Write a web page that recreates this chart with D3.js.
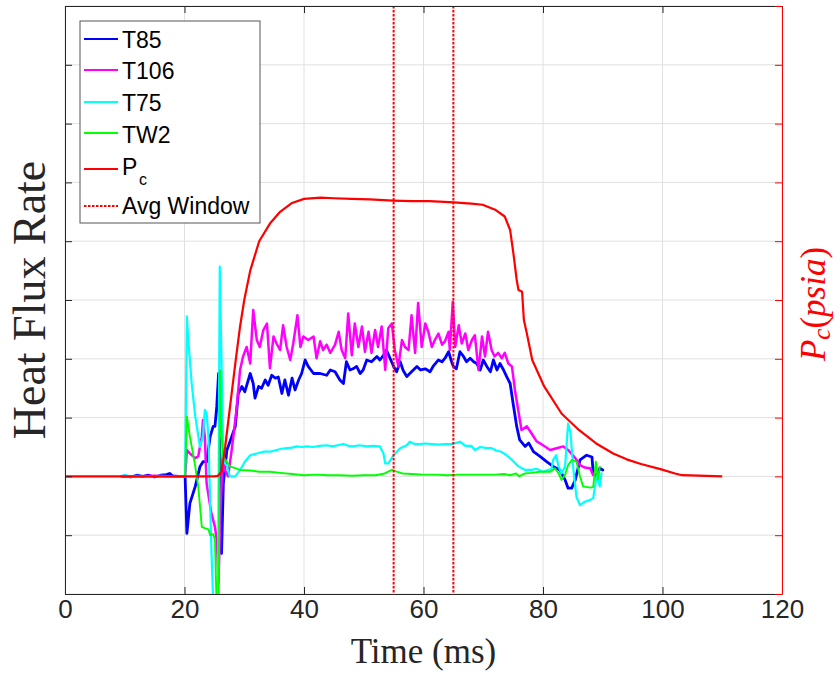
<!DOCTYPE html>
<html>
<head>
<meta charset="utf-8">
<script src="https://cdn.jsdelivr.net/npm/d3@7"></script>
<style>
  body { margin: 0; background: #fff; }
  svg { display: block; }
</style>
</head>
<body>
<svg id="chart" width="839" height="674"></svg>
<script>
// Time axis ticks (ms) and averaging window bounds (ms)
const timeTicks = [0, 20, 40, 60, 80, 100, 120];
const avgWindow = [55, 65];

// Heat flux traces, [time (ms), heat flux rate]
const t85 = [
  [9.5,0],[10,0.01],[11,-0.01],[12,0.02],[13,0],[14,0.02],[15,-0.01],[16,0.02],[17,0.03],[17.5,0.05],[18,0.01],[19,0],
  [20.1,0],[20.4,-0.97],[20.9,-0.46],[21.8,-0.17],[22.6,0.17],[23.1,0.25],[23.7,0.25],[24.3,0.68],[24.8,0.85],[25.1,0.85],
  [25.4,1.19],[25.7,1.75],[25.9,0.6],[26.2,-1.31],[26.5,-0.12],[27.1,0.45],[27.6,0.59],[28.5,0.85],[29.0,1.41],[29.6,1.53],
  [30.1,1.44],[31.0,1.75],[31.5,1.58],[31.8,1.33],[32.4,1.53],[32.9,1.50],[33.5,1.64],[34.0,1.55],[34.6,1.72],[35.2,1.67],
  [35.7,1.69],[36.3,1.41],[36.8,1.64],[37.4,1.38],[38.0,1.67],[38.5,1.47],[39.1,1.64],[39.6,1.75],[40.2,1.98],[40.7,1.87],
  [41.6,1.75],[42.7,1.75],[43.8,1.72],[44.4,1.81],[45.2,1.78],[46.0,1.64],[46.6,1.58],[47.1,1.95],[47.7,1.81],[48.2,1.83],
  [48.8,1.87],[49.4,1.75],[49.9,1.81],[50.5,1.98],[51.3,1.95],[52.2,2.04],[52.7,1.98],[53.3,2.06],[53.8,2.15],[54.4,2.01],
  [55.0,1.87],[55.5,1.78],[56.1,1.95],[56.6,1.80],[57.2,1.70],[58.0,1.78],[58.9,1.87],[59.5,1.81],[60.3,1.83],[61.1,1.78],
  [61.6,1.87],[62.5,1.98],[63.1,1.95],[63.6,2.01],[64.2,2.12],[64.7,1.95],[65.0,1.87],[65.5,1.83],[66.1,2.12],[66.7,2.04],
  [67.2,1.95],[67.8,2.01],[68.4,1.95],[68.9,1.92],[69.5,1.81],[70.0,1.98],[70.6,1.87],[71.2,1.78],[71.7,1.98],[72.3,1.81],
  [72.8,1.92],[73.4,1.81],[73.9,1.70],[74.5,1.58],[75.0,1.24],[75.6,0.85],[76.1,0.62],[77.0,0.51],[77.6,0.57],[78.4,0.42],
  [79.5,0.34],[80.6,0.25],[81.7,0.17],[82.8,0.11],[83.7,-0.06],[84.2,-0.2],[84.8,-0.2],[85.4,-0.06],[86.2,0.28],[87.3,0.36],
  [88.2,0.33],[88.4,0.05],[89.0,0.0],[89.5,0.14],[90.0,0.11]
];

const t106 = [
  [9.5,0],[12,0],[15,0.01],[18,0],[20.1,0],
  [20.4,0.45],[20.9,0.39],[21.8,0.31],[22.3,0.34],[22.9,0.68],[23.1,0.96],[23.4,0.68],[23.7,-0.12],[24.5,-0.63],[25.1,-0.86],
  [25.4,-1.08],[25.7,-1.8],[26.0,-0.6],[26.4,0.3],[26.8,0.1],[27.3,0.0],[27.9,0.45],[28.7,1.13],[29.3,1.81],[29.8,2.04],
  [30.4,2.2],[31.0,1.92],[31.5,2.83],[32.1,2.32],[32.6,2.2],[33.2,2.49],[33.8,2.6],[34.3,1.84],[34.9,2.38],[35.4,2.26],
  [36.0,2.15],[36.5,2.57],[37.1,2.2],[37.7,1.98],[38.2,2.26],[38.9,2.74],[39.4,2.2],[39.9,2.38],[40.7,2.32],[41.6,2.38],
  [42.1,2.01],[42.7,2.3],[43.2,2.15],[43.8,2.24],[44.4,2.1],[45.2,2.24],[45.8,2.46],[46.3,2.15],[46.9,2.01],[47.4,2.77],
  [48.0,2.06],[48.5,2.6],[49.1,2.2],[49.7,2.55],[50.2,2.12],[50.8,2.46],[51.3,2.1],[51.9,2.49],[52.4,2.2],[53.0,2.55],
  [53.6,1.81],[54.1,2.52],[54.7,2.6],[55.2,2.15],[55.8,1.87],[56.4,2.32],[56.9,2.2],[57.5,2.15],[58.0,2.74],[58.6,2.1],
  [59.1,2.95],[59.7,2.2],[60.3,2.6],[60.8,2.46],[61.4,2.2],[61.9,2.32],[62.5,2.43],[63.1,2.24],[63.6,2.3],[64.2,2.46],
  [64.4,2.15],[64.9,2.97],[65.3,2.2],[65.9,2.57],[66.4,2.26],[67.0,2.43],[67.5,2.15],[68.1,2.32],[68.6,2.4],[69.2,1.81],
  [69.8,2.38],[70.3,2.04],[70.8,2.46],[71.4,2.15],[71.9,2.04],[72.5,2.1],[73.1,2.01],[73.6,2.1],[74.2,1.92],[74.8,1.87],
  [75.3,1.47],[75.9,1.10],[76.4,0.79],[77.3,0.85],[78.1,0.73],[78.9,0.60],[80.0,0.53],[81.2,0.45],[82.3,0.48],[83.4,0.51],
  [84.2,0.45],[85.4,0.31],[86.2,0.19],[87.0,0.15],[87.9,0.14],[88.4,0.02]
];

const t75 = [
  [9.5,0],[10,0.02],[11,0],[12,0.01],[14,0],[16,0.01],[18,0],[20.1,0],
  [20.4,2.72],[20.6,2.38],[21.2,1.58],[21.8,1.02],[22.6,0.5],[23.1,0.68],[23.4,1.13],[23.7,1.08],[24.0,0.68],[24.5,-1.25],
  [24.8,-2.1],[25.2,-2.6],[25.6,-2.3],[25.9,3.57],[26.5,0.28],[27.1,0.17],[27.6,0],[28.5,0],[29.3,0.11],[30.1,0.25],
  [31.0,0.36],[32.1,0.39],[33.2,0.42],[34.3,0.42],[35.4,0.45],[36.2,0.47],[37.1,0.48],[38.0,0.49],[38.8,0.51],[39.6,0.50],
  [40.5,0.51],[41.5,0.5],[42.6,0.52],[43.8,0.53],[44.8,0.51],[45.6,0.53],[46.6,0.55],[47.4,0.52],[48.2,0.51],[49.3,0.53],
  [50.5,0.51],[51.6,0.52],[52.7,0.51],[53.3,0.39],[53.6,0.22],[54.1,0.22],[55.0,0.36],[56.1,0.48],[57.2,0.53],[57.7,0.59],
  [58.5,0.55],[59.4,0.55],[60.3,0.56],[61.5,0.55],[62.5,0.54],[63.6,0.55],[64.6,0.55],[65.5,0.57],[66.1,0.59],[67.0,0.52],
  [68.0,0.52],[68.6,0.45],[69.5,0.50],[70.6,0.48],[71.4,0.48],[72.2,0.44],[73.0,0.42],[73.9,0.36],[74.8,0.28],[75.9,0.17],
  [77.0,0.11],[78.1,0.11],[78.9,0.13],[80.0,0.08],[80.8,0.11],[81.4,0.12],[81.7,0.28],[82.2,0.36],[82.6,0.17],[83.1,0.05],
  [83.7,0.17],[84.2,0.9],[84.6,0.74],[85.1,0.1],[85.6,-0.35],[86.2,-0.49],[87.0,-0.43],[87.9,-0.40],[88.4,-0.37],[89.0,0.02],
  [89.5,-0.17],[89.8,0.05]
];

const tw2 = [
  [9.5,0],[12,0],[15,0],[18,0],[20.1,0],
  [20.4,1.02],[20.9,0.68],[21.8,0.17],[22.3,-0.17],[22.9,-0.86],[23.4,-0.88],[24.0,-0.9],[24.3,-1.0],[24.8,-0.98],[25.1,-1.08],
  [25.4,-2.3],[25.7,-2.5],[25.95,1.8],[26.2,0.68],[26.5,0.34],[27.6,0.17],[29.3,0.11],[31.0,0.1],[32.5,0.08],[34.3,0.08],
  [36.0,0.06],[38.0,0.04],[40.0,0.02],[42.0,0.03],[44.0,0.02],[46.0,0.02],[48.0,0.01],[50.0,0.02],[52.0,0.02],[53.5,0.05],
  [54.1,0.08],[54.7,0.11],[55.5,0.08],[56.5,0.05],[58,0.04],[60,0.03],[62,0.03],[64,0.02],[66,0.03],[68,0.03],[70,0.03],
  [72,0.03],[73.5,0.04],[74.5,0.02],[75.5,0.05],[76,0.0],[77,0.05],[78,0.06],[79.5,0.08],[81.2,0.08],[82.0,0.14],[82.6,0.05],
  [83.1,-0.06],[83.7,0.03],[84.2,0.19],[84.8,0.28],[85.6,0.25],[86.2,0.0],[86.7,-0.17],[87.9,-0.19],[88.4,-0.18],[88.85,0.25],
  [89.2,-0.05],[89.5,0.16]
];

// Chamber pressure, [time (ms), psia]
const pc = [
  [0,0],[25,0],[25.6,1],[26.2,8],[26.8,50],[27.4,100],[28.0,150],[28.6,200],[29.3,255],[30.0,300],[31.0,350],[32.5,400],
  [34.3,430],[36.0,450],[38.0,465],[40.0,472],[42.8,474],[45,473],[48,472],[51,471],[54.9,469],[58,468],[61,468],[65.1,466],
  [68,464],[69.9,462],[72.1,453],[73.6,442],[74.5,419],[75.05,379],[75.6,334],[75.9,317],[76.5,314],[76.8,266],[77.3,243],
  [78.2,198],[80.2,153],[83.1,107],[86.0,79],[88.9,56],[91.75,39],[94,29],[96.4,21],[99.8,12],[102.1,5],[103.3,2],[110,0]
];

const series = [
  { name: "T85",  data: t85,  color: "#0000ff", width: 2.8 },
  { name: "T106", data: t106, color: "#ff00ff", width: 2.5 },
  { name: "T75",  data: t75,  color: "#00ffff", width: 2.2 },
  { name: "TW2",  data: tw2,  color: "#00ff00", width: 1.9 }
];

const svg = d3.select("#chart");
const plotLeft = 65, plotRight = 782, plotTop = 6, plotBottom = 594;

const x = d3.scaleLinear().domain([0, 120]).range([plotLeft, plotRight]);
const yFlux = d3.scaleLinear().domain([-2, 8]).range([plotBottom, plotTop]);
const yPc = d3.scaleLinear().domain([-200, 800]).range([plotBottom, plotTop]);

const fluxTicks = d3.range(-2, 9, 1);
const pcTicks = d3.range(-200, 801, 100);

// grid
const grid = svg.append("g").attr("stroke", "#e0e0e0").attr("stroke-width", 1);
grid.selectAll("line.v").data(timeTicks).join("line").attr("class", "v")
  .attr("x1", d => x(d)).attr("x2", d => x(d)).attr("y1", plotTop).attr("y2", plotBottom);
grid.selectAll("line.h").data(fluxTicks).join("line").attr("class", "h")
  .attr("x1", plotLeft).attr("x2", plotRight).attr("y1", d => yFlux(d)).attr("y2", d => yFlux(d));

// plot area clip
svg.append("clipPath").attr("id", "plotClip").append("rect")
  .attr("x", plotLeft).attr("y", plotTop).attr("width", plotRight - plotLeft).attr("height", plotBottom - plotTop);

const plot = svg.append("g").attr("clip-path", "url(#plotClip)");

const fluxLine = d3.line().x(d => x(d[0])).y(d => yFlux(d[1]));
const pcLine = d3.line().x(d => x(d[0])).y(d => yPc(d[1]));

series.forEach(s => {
  plot.append("path").datum(s.data)
    .attr("fill", "none").attr("stroke", s.color).attr("stroke-width", s.width)
    .attr("stroke-linejoin", "round").attr("stroke-linecap", "round")
    .attr("d", fluxLine);
});

plot.append("path").datum(pc)
  .attr("fill", "none").attr("stroke", "#ff0000").attr("stroke-width", 2.2)
  .attr("stroke-linejoin", "round").attr("d", pcLine);

// averaging window
plot.selectAll("line.avg").data(avgWindow).join("line").attr("class", "avg")
  .attr("x1", d => x(d)).attr("x2", d => x(d)).attr("y1", plotTop).attr("y2", plotBottom)
  .attr("stroke", "#ff0000").attr("stroke-width", 2).attr("stroke-dasharray", "2.5,1.5");

// axes
const axisColor = "#262626";
const styleAxis = (g, color) => {
  g.select(".domain").attr("stroke", color).attr("stroke-width", 1);
  g.selectAll(".tick line").attr("stroke", color).attr("stroke-width", 1);
};

svg.append("g").attr("transform", `translate(0,${plotBottom})`)
  .call(d3.axisBottom(x).tickValues(timeTicks).tickSize(-7).tickSizeOuter(0).tickPadding(6))
  .call(g => styleAxis(g, axisColor))
  .call(g => g.selectAll("text").attr("fill", axisColor)
    .style("font-family", "'Liberation Sans', Arial, sans-serif").style("font-size", "26px"));

svg.append("g").attr("transform", `translate(0,${plotTop})`)
  .call(d3.axisTop(x).tickValues(timeTicks).tickSize(-7).tickSizeOuter(0).tickFormat(""))
  .call(g => styleAxis(g, axisColor));

svg.append("g").attr("transform", `translate(${plotLeft},0)`)
  .call(d3.axisLeft(yFlux).tickValues(fluxTicks).tickSize(-7).tickSizeOuter(0).tickFormat(""))
  .call(g => styleAxis(g, axisColor));

svg.append("g").attr("transform", `translate(${plotRight},0)`)
  .call(d3.axisRight(yPc).tickValues(pcTicks).tickSize(-7).tickSizeOuter(0).tickFormat(""))
  .call(g => styleAxis(g, "#ff0000"));

// axis titles
const serif = "'Liberation Serif', 'Times New Roman', serif";
svg.append("text").attr("x", (plotLeft + plotRight) / 2).attr("y", 663)
  .attr("text-anchor", "middle").attr("fill", axisColor)
  .style("font-family", serif).style("font-size", "35px").text("Time (ms)");

svg.append("text").attr("transform", "translate(45,300) rotate(-90)")
  .attr("text-anchor", "middle").attr("fill", axisColor)
  .style("font-family", serif).style("font-size", "46px").text("Heat Flux Rate");

const pcLabel = svg.append("text").attr("transform", "translate(825,304) rotate(-90)")
  .attr("text-anchor", "middle").attr("fill", "#ff0000")
  .style("font-family", serif).style("font-size", "35px");
pcLabel.append("tspan").style("font-style", "italic").text("P");
pcLabel.append("tspan").style("font-style", "italic").style("font-size", "25px").attr("dy", 5).text("c");
pcLabel.append("tspan").attr("dy", -5).text("(");
pcLabel.append("tspan").style("font-style", "italic").text("psia");
pcLabel.append("tspan").text(")");

// legend
const sans = "'Liberation Sans', Arial, sans-serif";
const legend = svg.append("g");
legend.append("rect").attr("x", 80).attr("y", 21).attr("width", 180).attr("height", 202)
  .attr("fill", "#fff").attr("stroke", "#555").attr("stroke-width", 1);

const legendItems = [
  { label: "T85",  color: "#0000ff", lineY: 39,  textY: 48 },
  { label: "T106", color: "#ff00ff", lineY: 70,  textY: 79 },
  { label: "T75",  color: "#00ffff", lineY: 102, textY: 111 },
  { label: "TW2",  color: "#00ff00", lineY: 133, textY: 142.5 },
  { label: "P",    color: "#ff0000", lineY: 169, textY: 175, sub: "c" },
  { label: "Avg Window", color: "#ff0000", lineY: 206, textY: 214, dotted: true }
];

legendItems.forEach(it => {
  legend.append("line").attr("x1", 84).attr("x2", 118).attr("y1", it.lineY).attr("y2", it.lineY)
    .attr("stroke", it.color).attr("stroke-width", 2)
    .attr("stroke-dasharray", it.dotted ? "2.5,1.5" : null);
  legend.append("text").attr("x", 122).attr("y", it.textY).attr("fill", "#000")
    .style("font-family", sans).style("font-size", "23px").text(it.label);
  if (it.sub) {
    legend.append("text").attr("x", 139).attr("y", it.textY + 10).attr("fill", "#000")
      .style("font-family", sans).style("font-size", "16px").text(it.sub);
  }
});
</script>
</body>
</html>
